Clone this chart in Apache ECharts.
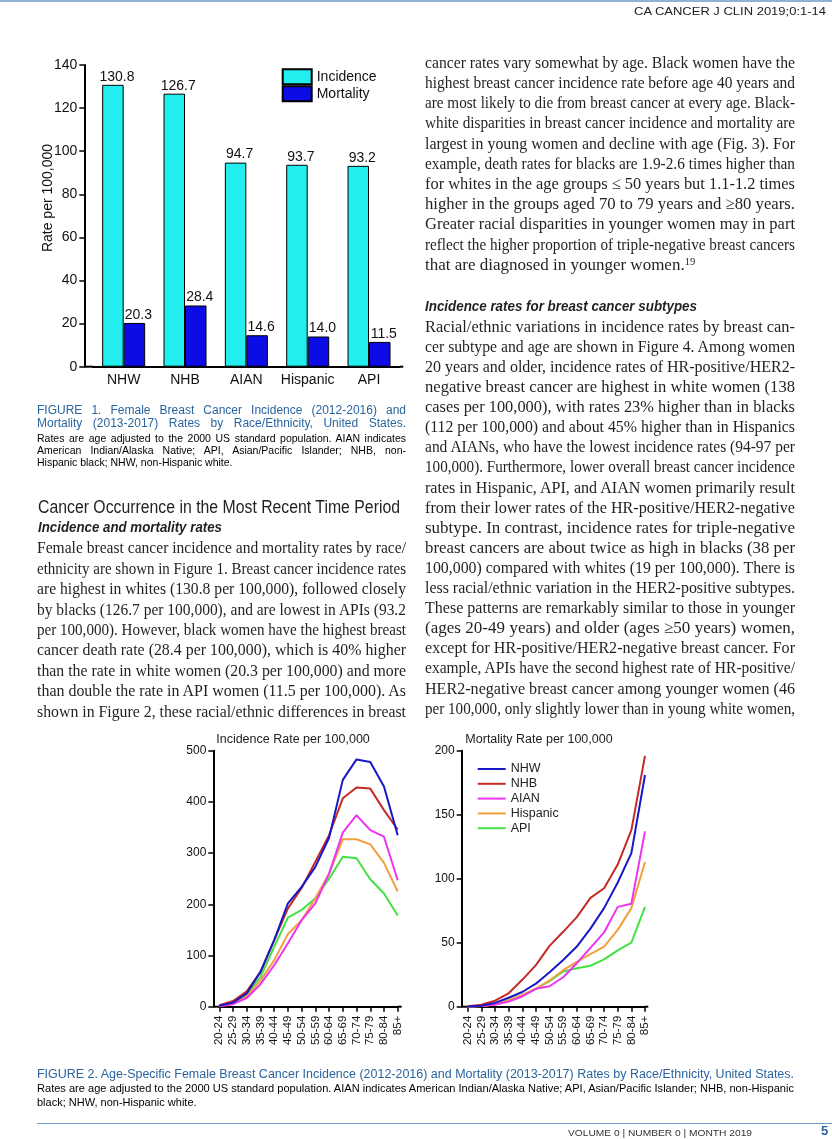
<!DOCTYPE html>
<html>
<head>
<meta charset="utf-8">
<script src="https://cdn.jsdelivr.net/npm/echarts@6/dist/echarts.min.js"></script>
<style>
  html, body { margin: 0; padding: 0; background: #fff; }
  #page { position: relative; width: 832px; height: 1139px; overflow: hidden; background: #fff; }
  #chart { position: absolute; left: 0; top: 0; width: 832px; height: 1139px; z-index: 1; }
  .ln { position: absolute; height: 20px; line-height: 20px; white-space: nowrap; z-index: 2; color: #231f20; }
  .ln sup { font-size: 0.62em; line-height: 0; vertical-align: 0.5em; }
  .rule { position: absolute; z-index: 2; }
</style>
</head>
<body>
<div id="page">
  <div id="chart"></div>
  <div class="rule" style="left:0;top:0;width:832px;height:2px;background:#8fb1d6;"></div>
  <div class="rule" style="left:37px;top:1123px;width:795px;height:1px;background:#6d9bcb;"></div>
</div>
<script>
// ---------------- DATA ----------------
const races = ['NHW', 'NHB', 'AIAN', 'Hispanic', 'API'];
const incidenceRate = [130.8, 126.7, 94.7, 93.7, 93.2];
const mortalityRate = [20.3, 28.4, 14.6, 14.0, 11.5];

const ageGroups = ['20-24','25-29','30-34','35-39','40-44','45-49','50-54','55-59','60-64','65-69','70-74','75-79','80-84','85+'];

const incNHW  = [2, 8, 26, 68, 130, 202, 234, 273, 330, 443, 483, 478, 430, 335];
const incNHB  = [3, 11, 30, 68, 130, 192, 232, 283, 335, 407, 428, 426, 384, 346];
const incAIAN = [1, 5, 17, 44, 81, 124, 169, 202, 260, 340, 374, 345, 332, 247];
const incHisp = [1, 6, 20, 51, 91, 142, 169, 212, 260, 327, 327, 317, 281, 225];
const incAPI  = [2, 8, 24, 58, 117, 174, 189, 212, 250, 293, 290, 249, 221, 178];

const mortNHW  = [0.2, 0.8, 3, 7, 11.5, 18, 27, 36.5, 47, 61, 77, 97, 120, 181];
const mortNHB  = [0.3, 1.5, 4.7, 10.5, 21, 32.5, 47.5, 58.5, 70, 85, 92.5, 111, 138, 196];
const mortAIAN = [0, 0.5, 1.5, 4, 8, 14, 16, 23, 34, 46, 58, 78, 80.5, 137];
const mortHisp = [0, 0.5, 2, 5, 9, 14, 20.5, 28.5, 35, 41, 47, 60, 77, 113];
const mortAPI  = [0, 0.5, 2, 5, 9, 14, 20, 27.5, 30, 32, 37, 44, 50, 78];

const groupNames = ['NHW', 'NHB', 'AIAN', 'Hispanic', 'API'];
const incSeries = [incNHW, incNHB, incAIAN, incHisp, incAPI];
const mortSeries = [mortNHW, mortNHB, mortAIAN, mortHisp, mortAPI];

const barTicks = { min: 0, max: 140, interval: 20 };
const incTicks = { min: 0, max: 500, interval: 100 };
const mortTicks = { min: 0, max: 200, interval: 50 };

// ---------------- STYLE / LAYOUT ----------------
const lineColors = ['#1818c8', '#c42a26', '#ee34ee', '#f0a040', '#44e044'];
const SANS = '"Liberation Sans", Arial, sans-serif';
const G0 = { axisX: 84.3, left: 93, right: 399.7, axisEnd: 403.3, top: 65, bottom: 366.7 };
const G1 = { axisX: 213.3, left: 219.3, right: 397.7, axisEnd: 401.7, top: 750.7, bottom: 1006.7 };
const G2 = { axisX: 461.7, left: 467.7, right: 645, axisEnd: 648.3, top: 750.7, bottom: 1006.7 };
const AX = { color: '#000', width: 2 };

function grid(g) { return { left: g.left, width: g.right - g.left, top: g.top, height: g.bottom - g.top }; }
function extLines(g) {
  return [
    { type: 'line', shape: { x1: g.axisX, y1: g.bottom, x2: g.left, y2: g.bottom }, style: { stroke: AX.color, lineWidth: AX.width } },
    { type: 'line', shape: { x1: g.right, y1: g.bottom, x2: g.axisEnd, y2: g.bottom }, style: { stroke: AX.color, lineWidth: AX.width } }
  ];
}
function yAx(idx, t, g, fs) {
  return {
    type: 'value', gridIndex: idx, min: t.min, max: t.max, interval: t.interval,
    offset: g.left - g.axisX,
    axisLine: { show: true, lineStyle: { color: AX.color, width: AX.width } },
    axisTick: { show: true, length: 5, inside: false, lineStyle: { color: '#000', width: 1.5 } },
    splitLine: { show: false },
    axisLabel: { fontFamily: SANS, fontSize: fs, color: '#111', margin: 7 }
  };
}
function ageAx(idx) {
  return {
    type: 'category', gridIndex: idx, data: ageGroups, boundaryGap: false,
    axisLine: { show: true, lineStyle: { color: AX.color, width: AX.width } },
    axisTick: { show: true, length: 5, interval: 0, lineStyle: { color: '#000', width: 1.5 } },
    axisLabel: { rotate: 90, interval: 0, fontFamily: SANS, fontSize: 11.5, color: '#111', margin: 9 }
  };
}

const series = [
  { name: 'Incidence', type: 'bar', xAxisIndex: 0, yAxisIndex: 0, data: incidenceRate,
    barWidth: 21.5, barGap: '0%',
    itemStyle: { color: '#22eef0', borderColor: '#000', borderWidth: 1 },
    label: { show: true, position: 'top', distance: 1, offset: [4, 0], fontFamily: SANS, fontSize: 14, color: '#111',
             formatter: p => p.value.toFixed(1) } },
  { name: 'Mortality', type: 'bar', xAxisIndex: 0, yAxisIndex: 0, data: mortalityRate,
    barWidth: 21.5, barGap: '0%',
    itemStyle: { color: '#0c0ce6', borderColor: '#000', borderWidth: 1 },
    label: { show: true, position: 'top', distance: 1, offset: [4, 0], fontFamily: SANS, fontSize: 14, color: '#111',
             formatter: p => p.value.toFixed(1) } }
];
groupNames.forEach((n, i) => {
  series.push({ name: n, type: 'line', xAxisIndex: 1, yAxisIndex: 1, data: incSeries[i], symbol: 'none',
    lineStyle: { color: lineColors[i], width: 2 }, itemStyle: { color: lineColors[i] }, z: 10 - i });
});
groupNames.forEach((n, i) => {
  series.push({ name: n, type: 'line', xAxisIndex: 2, yAxisIndex: 2, data: mortSeries[i], symbol: 'none',
    lineStyle: { color: lineColors[i], width: 2 }, itemStyle: { color: lineColors[i] }, z: 10 - i });
});

const option = {
  animation: false,
  backgroundColor: 'transparent',
  grid: [grid(G0), grid(G1), grid(G2)],
  xAxis: [
    { type: 'category', gridIndex: 0, data: races,
      axisLine: { show: true, lineStyle: { color: AX.color, width: AX.width } },
      axisTick: { show: false },
      axisLabel: { fontFamily: SANS, fontSize: 14, color: '#111', margin: 6, interval: 0 } },
    ageAx(1), ageAx(2)
  ],
  yAxis: [yAx(0, barTicks, G0, 14), yAx(1, incTicks, G1, 12), yAx(2, mortTicks, G2, 12)],
  legend: [
    { data: ['Incidence', 'Mortality'], orient: 'vertical', left: 281.7, top: 68.3, padding: 0,
      itemWidth: 29, itemHeight: 15, itemGap: 0, icon: 'rect', selectedMode: false,
      textStyle: { fontFamily: SANS, fontSize: 14, color: '#111', lineHeight: 15 } },
    { data: groupNames, orient: 'vertical', left: 477.7, top: 762, padding: 0,
      itemWidth: 28, itemHeight: 2, itemGap: 0.8, icon: 'rect', selectedMode: false,
      textStyle: { fontFamily: SANS, fontSize: 12.5, color: '#222', lineHeight: 14 } }
  ],
  graphic: [
    ...extLines(G0), ...extLines(G1), ...extLines(G2),
    { type: 'text', x: 48.3, y: 198, rotation: Math.PI / 2,
      style: { text: 'Rate per 100,000', font: '14px ' + SANS, fill: '#111', align: 'center', verticalAlign: 'middle' } },
    { type: 'text', x: 293, y: 740,
      style: { text: 'Incidence Rate per 100,000', font: '12.5px ' + SANS, fill: '#222', align: 'center', verticalAlign: 'middle' } },
    { type: 'text', x: 539, y: 740,
      style: { text: 'Mortality Rate per 100,000', font: '12.5px ' + SANS, fill: '#222', align: 'center', verticalAlign: 'middle' } }
  ],
  series: series
};

const chart = echarts.init(document.getElementById('chart'), null, { renderer: 'canvas' });
chart.setOption(option);

// ---------------- PAGE TEXT ----------------
const page = document.getElementById('page');
const SERIF = '"Liberation Serif", "Times New Roman", serif';
const bodyStyle = { fontFamily: SERIF, fontSize: '17px', color: '#231f20' };
const queue = [];
function addLine(html, x, yc, w, style, mode) {
  const d = document.createElement('div');
  d.className = 'ln';
  d.style.left = x + 'px';
  d.style.top = (yc - 10) + 'px';
  d.style.width = w + 'px';
  Object.assign(d.style, style);
  const s = document.createElement('span');
  s.innerHTML = html;
  d.appendChild(s);
  page.appendChild(d);
  queue.push([d, s, w, mode]);
}
function addBlock(lines, x, y0, step, w, style, lastMode) {
  lines.forEach((t, i) => addLine(t, x, y0 + i * step, w, style, i === lines.length - 1 ? lastMode : 'justify'));
}
function fitAll() {
  queue.forEach(([d, s, w, mode]) => {
    const nw = s.getBoundingClientRect().width;
    const scale = (k, origin) => {
      s.style.display = 'inline-block';
      s.style.transformOrigin = origin + ' center';
      s.style.transform = 'scaleX(' + k + ')';
    };
    if (mode === 'justify') {
      if (nw > w - 0.5) scale(w / nw, 'left');
      else { d.style.whiteSpace = 'normal'; d.style.textAlign = 'justify'; d.style.textAlignLast = 'justify'; }
    } else if (mode === 'fit') {
      scale(w / nw, 'left');
    } else if (mode === 'right') {
      d.style.textAlign = 'right';
      if (nw > w) scale(w / nw, 'right');
    } else {
      if (nw > w) scale(w / nw, 'left');
    }
  });
}

// Header / footer
addLine('CA CANCER J CLIN 2019;0:1-14', 634, 11, 192, { fontFamily: SANS, fontSize: '11px', color: '#222' }, 'fit');
addLine('VOLUME 0 | NUMBER 0 | MONTH 2019', 568, 1133, 184, { fontFamily: SANS, fontSize: '9.5px', color: '#333' }, 'fit');
addLine('5', 821, 1131, 10, { fontFamily: SANS, fontSize: '13px', fontWeight: 'bold', color: '#2a64a0' }, 'left');

// Figure 1 caption
const capBlue = { fontFamily: SANS, fontSize: '12px', color: '#2a64a0' };
const capBlack = { fontFamily: SANS, fontSize: '10.5px', color: '#000' };
addLine('FIGURE 1. Female Breast Cancer Incidence (2012-2016) and', 37, 410, 369, capBlue, 'justify');
addLine('Mortality (2013-2017) Rates by Race/Ethnicity, United States.', 37, 423.3, 369, capBlue, 'justify');
addLine('Rates are age adjusted to the 2000 US standard population. AIAN indicates', 37, 437.5, 369, capBlack, 'justify');
addLine('American Indian/Alaska Native; API, Asian/Pacific Islander; NHB, non-', 37, 449.8, 369, capBlack, 'justify');
addLine('Hispanic black; NHW, non-Hispanic white.', 37, 462, 369, capBlack, 'left');

// Left column text
addLine('Cancer Occurrence in the Most Recent Time Period', 38, 506.7, 362, { fontFamily: SANS, fontSize: '17.5px', color: '#231f20' }, 'fit');
addLine('Incidence and mortality rates', 38, 526.7, 184, { fontFamily: SANS, fontSize: '15px', fontStyle: 'italic', fontWeight: 'bold', color: '#231f20' }, 'fit');
addBlock([
  'Female breast cancer incidence and mortality rates by race/',
  'ethnicity are shown in Figure 1. Breast cancer incidence rates',
  'are highest in whites (130.8 per 100,000), followed closely',
  'by blacks (126.7 per 100,000), and are lowest in APIs (93.2',
  'per 100,000). However, black women have the highest breast',
  'cancer death rate (28.4 per 100,000), which is 40% higher',
  'than the rate in white women (20.3 per 100,000) and more',
  'than double the rate in API women (11.5 per 100,000). As',
  'shown in Figure 2, these racial/ethnic differences in breast'
], 37, 548.3, 20.4, 369, bodyStyle, 'justify');

// Right column text
addBlock([
  'cancer rates vary somewhat by age. Black women have the',
  'highest breast cancer incidence rate before age 40 years and',
  'are most likely to die from breast cancer at every age. Black-',
  'white disparities in breast cancer incidence and mortality are',
  'largest in young women and decline with age (Fig. 3). For',
  'example, death rates for blacks are 1.9-2.6 times higher than',
  'for whites in the age groups \u2264 50 years but 1.1-1.2 times',
  'higher in the groups aged 70 to 79 years and \u226580 years.',
  'Greater racial disparities in younger women may in part',
  'reflect the higher proportion of triple-negative breast cancers',
  'that are diagnosed in younger women.<sup>19</sup>'
], 425, 62.7, 20.2, 370, bodyStyle, 'left');

addLine('Incidence rates for breast cancer subtypes', 425, 306, 272, { fontFamily: SANS, fontSize: '15px', fontStyle: 'italic', fontWeight: 'bold', color: '#231f20' }, 'fit');
addBlock([
  'Racial/ethnic variations in incidence rates by breast can-',
  'cer subtype and age are shown in Figure 4. Among women',
  '20 years and older, incidence rates of HR-positive/HER2-',
  'negative breast cancer are highest in white women (138',
  'cases per 100,000), with rates 23% higher than in blacks',
  '(112 per 100,000) and about 45% higher than in Hispanics',
  'and AIANs, who have the lowest incidence rates (94-97 per',
  '100,000). Furthermore, lower overall breast cancer incidence',
  'rates in Hispanic, API, and AIAN women primarily result',
  'from their lower rates of the HR-positive/HER2-negative',
  'subtype. In contrast, incidence rates for triple-negative',
  'breast cancers are about twice as high in blacks (38 per',
  '100,000) compared with whites (19 per 100,000). There is',
  'less racial/ethnic variation in the HER2-positive subtypes.',
  'These patterns are remarkably similar to those in younger',
  '(ages 20-49 years) and older (ages \u226550 years) women,',
  'except for HR-positive/HER2-negative breast cancer. For',
  'example, APIs have the second highest rate of HR-positive/',
  'HER2-negative breast cancer among younger women (46',
  'per 100,000, only slightly lower than in young white women,'
], 425, 326.7, 20.1, 370, bodyStyle, 'justify');

// Figure 2 caption
addLine('FIGURE 2. Age-Specific Female Breast Cancer Incidence (2012-2016) and Mortality (2013-2017) Rates by Race/Ethnicity, United States.', 37, 1074, 757, { fontFamily: SANS, fontSize: '12px', color: '#2a64a0' }, 'fit');
addLine('Rates are age adjusted to the 2000 US standard population. AIAN indicates American Indian/Alaska Native; API, Asian/Pacific Islander; NHB, non-Hispanic', 37, 1088, 757, { fontFamily: SANS, fontSize: '11px', color: '#000' }, 'fit');
addLine('black; NHW, non-Hispanic white.', 37, 1102, 190, { fontFamily: SANS, fontSize: '11px', color: '#000' }, 'left');

fitAll();
</script>
</body>
</html>
